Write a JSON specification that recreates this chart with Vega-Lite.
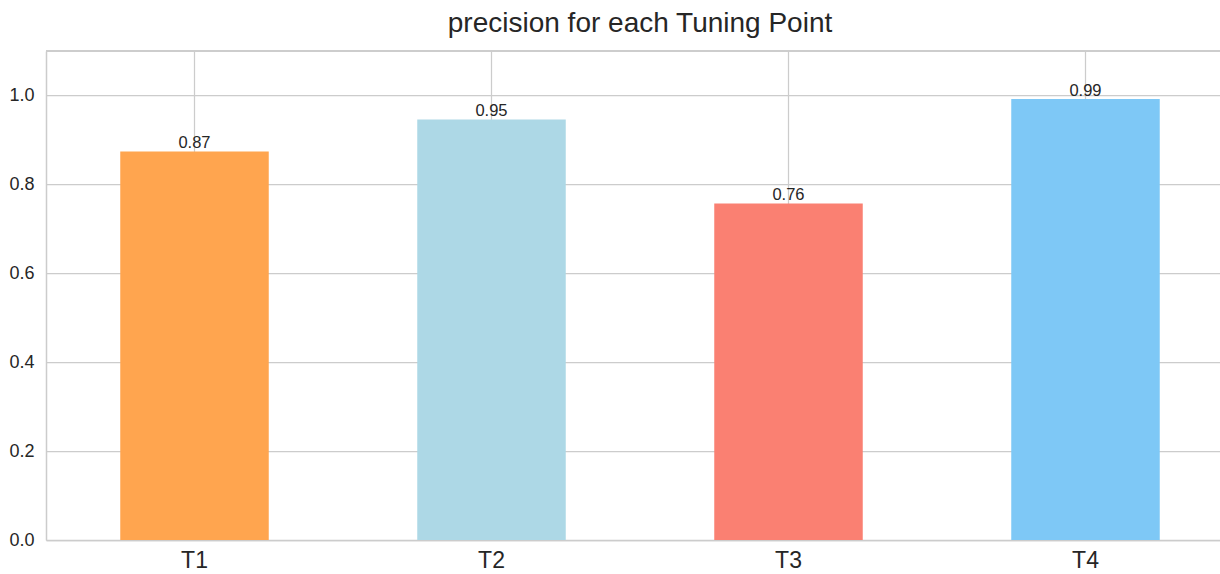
{
  "$schema": "https://vega.github.io/schema/vega-lite/v6.json",
  "autosize": {"type": "none"},
  "width": 1174,
  "height": 489,
  "padding": {"left": 46, "top": 51, "right": 0, "bottom": 34},
  "background": "white",
  "config": {
    "view": {"stroke": null},
    "font": "Liberation Sans",
    "axis": {
      "gridColor": "#cccccc",
      "gridWidth": 1.25,
      "domainColor": "#cccccc",
      "domainWidth": 1.5,
      "ticks": false,
      "labelColor": "#262626",
      "labelFont": "Liberation Sans",
      "title": null
    }
  },
  "title": {
    "text": "precision for each Tuning Point",
    "fontSize": 28,
    "fontWeight": "normal",
    "color": "#262626",
    "font": "Liberation Sans",
    "anchor": "middle",
    "baseline": "alphabetic",
    "offset": -10,
    "dx": 7
  },
  "data": {
    "values": [
      {"point": "T1", "precision": 0.874, "color": "#FFA54F"},
      {"point": "T2", "precision": 0.946, "color": "#ADD8E6"},
      {"point": "T3", "precision": 0.757, "color": "#FA8072"},
      {"point": "T4", "precision": 0.992, "color": "#7EC8F6"}
    ]
  },
  "encoding": {
    "x": {
      "field": "point",
      "type": "nominal",
      "sort": null,
      "scale": {"range": [0, 1188], "paddingInner": 0.5, "paddingOuter": 0.25},
      "axis": {"labelAngle": 0, "labelFontSize": 23, "labelPadding": 9, "grid": false}
    }
  },
  "layer": [
    {
      "mark": {"type": "rule", "color": "#cccccc", "strokeWidth": 1.25},
      "encoding": {}
    },
    {
      "mark": {"type": "bar"},
      "encoding": {
        "y": {
          "field": "precision",
          "type": "quantitative",
          "scale": {"domain": [0, 1.1], "nice": false},
          "axis": {"values": [0, 0.2, 0.4, 0.6, 0.8, 1.0], "format": ".1f", "labelFontSize": 18, "labelPadding": 12, "grid": true}
        },
        "color": {"field": "color", "type": "nominal", "scale": null}
      }
    },
    {
      "mark": {"type": "text", "baseline": "alphabetic", "dy": -3, "fontSize": 16.5, "color": "#262626"},
      "encoding": {
        "y": {"field": "precision", "type": "quantitative"},
        "text": {"field": "precision", "type": "quantitative", "format": ".2f"}
      }
    },
    {
      "mark": {"type": "rule", "color": "#cccccc", "strokeWidth": 1.5},
      "encoding": {"x": null, "y": {"datum": 1.1}}
    }
  ]
}
